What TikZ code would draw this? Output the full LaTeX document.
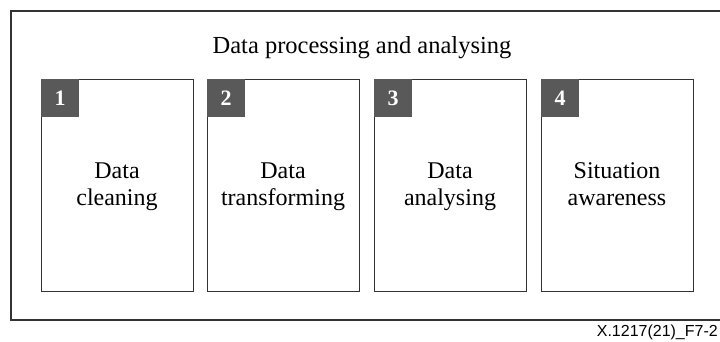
\documentclass[tikz,border=0pt]{standalone}
\usepackage{fontspec}
\setmainfont{Liberation Serif}
\newfontfamily\captionfont{Liberation Sans}
\definecolor{tabgray}{HTML}{595959}
\definecolor{edgegray}{HTML}{333333}
\begin{document}
\begin{tikzpicture}[x=1pt,y=-1pt,
  stagebox/.style={draw=edgegray, line width=1.2pt, minimum width=152pt, minimum height=212pt, anchor=north west, inner sep=0pt},
  numtab/.style={fill=tabgray, minimum width=38pt, minimum height=38pt, anchor=north west, inner sep=0pt, text=white, font=\fontsize{22}{24}\selectfont\bfseries},
  stagetext/.style={align=center, inner sep=0pt, text depth=0pt, anchor=south, font=\fontsize{24}{27}\selectfont}]
\useasboundingbox (0,0) rectangle (720,341);
% enclosing frame, open on the right
\draw[edgegray, line width=1.3pt] (740,11) -- (11,11) -- (11,320) -- (740,320);
\node[font=\fontsize{24.5}{28}\selectfont, anchor=base] (title) at (362,53) {Data processing and analysing};
% the four stages
\foreach \i/\x/\lbl in {1/41/{Data\\cleaning}, 2/207/{Data\\transforming}, 3/374/{Data\\analysing}, 4/541/{Situation\\awareness}} {
  \node[stagebox] (s\i) at (\x,79) {};
  \node[numtab] (n\i) at (\x,79) {\i};
  \node[stagetext] (t\i) at ([xshift=76pt]\x,205.5) {\lbl};
}
\node[font=\captionfont\fontsize{16}{18}\selectfont, anchor=base east, inner sep=0pt] (cap) at (718,336) {X.1217(21)\_F7-2};
\end{tikzpicture}
\end{document}
